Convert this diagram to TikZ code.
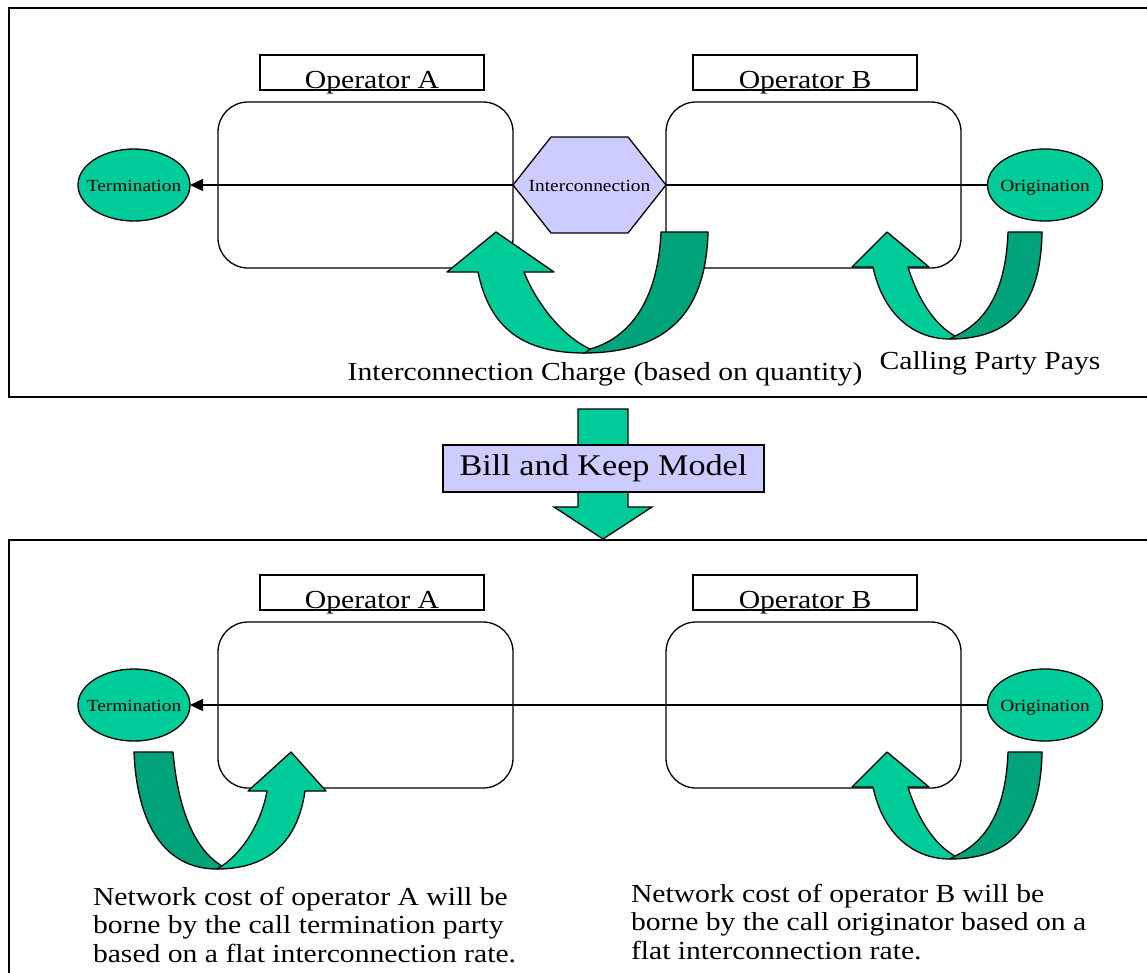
\documentclass[tikz,border=0pt]{standalone}
\usepackage{fontspec}
\setmainfont{Liberation Serif}[FakeStretch=1.14]
\usetikzlibrary{shapes.geometric,arrows.meta}

\definecolor{sea}{HTML}{00CC99}
\definecolor{seadark}{HTML}{00A37A}
\definecolor{lav}{HTML}{CCCCFF}

\newcommand{\narrowlabel}[1]{\makebox[0pt]{#1}}

\tikzset{
  frame/.style={draw, line width=1.6pt},
  labelbox/.style={draw, line width=1.3pt, fill=white, minimum width=224pt,
    minimum height=35pt, inner sep=0pt, outer sep=0pt, anchor=north west},
  opbox/.style={draw, line width=1.3pt, rounded corners=30pt, minimum width=295pt,
    minimum height=166pt, inner sep=0pt, outer sep=0pt, anchor=north west},
  endpoint/.style={ellipse, draw, line width=1.3pt, fill=sea, minimum width=112pt,
    minimum height=72pt, inner sep=0pt, outer sep=0pt, text height=12pt, text depth=0pt,
    font=\fontsize{17}{20}\selectfont},
  flow/.style={line width=1.3pt},
  flowtip/.style={flow, -{Triangle[length=13pt,width=12pt]}},
  hexa/.style={draw, line width=1.3pt, fill=lav, line join=miter},
  light/.style={draw, line width=1.3pt, fill=sea, line join=round},
  dark/.style={draw, line width=1.3pt, fill=seadark, line join=round},
  bigtext/.style={font=\fontsize{26}{28.5}\selectfont, inner sep=0pt, outer sep=0pt},
  smalltext/.style={font=\fontsize{17}{20}\selectfont, inner sep=0pt, text height=12pt, text depth=0pt},
  % U-turn ribbon rising on the left (used on the right-hand side)
  uturnR/.pic={
    \draw[dark] (1008,232) -- (1042,232) .. controls (1041,300) and (1015,339) .. (950,339)
      -- (955,336) .. controls (990,320) and (1006,285) .. (1008,232) -- cycle;
    \draw[light] (852,267) -- (887,232) -- (929,267) -- (908,267)
      .. controls (918,300) and (935,325) .. (955,336) -- (950,339)
      .. controls (910,339) and (882,310) .. (873,267) -- cycle;
  },
}

\begin{document}
\begin{tikzpicture}[x=1pt,y=-1pt]
\useasboundingbox (0,0) rectangle (1147,972);
\clip (0,0) rectangle (1147,972);
\fill[white] (0,0) rectangle (1147,972);

% ---------- upper panel: calling party pays ----------
\draw[frame] (9,8) rectangle (1175,397);

\node[opbox] (netAT) at (218,102) {};
\node[opbox] (netBT) at (666,102) {};
\node[labelbox] (labAT) at (260,55) {};
\node[labelbox] (labBT) at (693,55) {};
\node[bigtext, anchor=base] (txtAT) at (372,88) {Operator A};
\node[bigtext, anchor=base] (txtBT) at (805,88) {Operator B};

\coordinate (icTW) at (513,185);
\coordinate (icTE) at (666,185);
\node[endpoint] (termT) at (134,185) {\narrowlabel{Termination}};
\node[endpoint, minimum width=115pt] (origT) at (1045,185) {\narrowlabel{Origination}};
\draw[flowtip] (icTW) -- (termT);
\draw[flow] (origT) -- (icTE);

\draw[hexa] (icTW) -- (551,137) -- (628,137) -- (icTE) -- (628,233) -- (551,233) -- cycle;
\node[smalltext] (icT) at (589.5,185) {Interconnection};

% charge flowing back across the interconnection
\draw[dark] (661,232) -- (708,232) .. controls (706,310) and (670,353) .. (583,353)
  -- (590,349) .. controls (630,338) and (658,300) .. (661,232) -- cycle;
\draw[light] (447,272) -- (496,232) -- (554,272) -- (524,272)
  .. controls (535,300) and (560,335) .. (590,349) -- (585,353)
  .. controls (525,353) and (490,330) .. (478,272) -- cycle;

\pic at (0,0) {uturnR};

\node[bigtext, anchor=base] (chargeT) at (605,380) {Interconnection Charge (based on quantity)};
\node[bigtext, anchor=base] (cppT) at (990,369) {Calling Party Pays};

% ---------- transition ----------
\draw[light, line join=miter] (578,409) -- (628,409) -- (628,507) -- (652,507)
  -- (603,539) -- (554,507) -- (578,507) -- cycle;
\node[draw, line width=1.3pt, fill=lav, minimum width=321pt, minimum height=47pt,
  inner sep=0pt, font=\fontsize{30}{34}\selectfont] (bk) at (603.5,468.5) {Bill and Keep Model};

% ---------- lower panel: bill and keep ----------
\draw[frame] (9,540) rectangle (1175,1000);

\node[opbox] (netAB) at (218,622) {};
\node[opbox] (netBB) at (666,622) {};
\node[labelbox] (labAB) at (260,575) {};
\node[labelbox] (labBB) at (693,575) {};
\node[bigtext, anchor=base] (txtAB) at (372,608) {Operator A};
\node[bigtext, anchor=base] (txtBB) at (805,608) {Operator B};

\node[endpoint] (termB) at (134,705) {\narrowlabel{Termination}};
\node[endpoint, minimum width=115pt] (origB) at (1045,705) {\narrowlabel{Origination}};
\draw[flowtip] (origB) -- (termB);

% termination side pays operator A
\draw[dark] (134,752) -- (173,752) .. controls (178,810) and (195,850) .. (222,866)
  -- (217,869) .. controls (165,869) and (137,825) .. (134,752) -- cycle;
\draw[light] (248,791) -- (291,752) -- (326,791) -- (305,791)
  .. controls (298,840) and (270,869) .. (217,869) -- (222,866)
  .. controls (245,850) and (262,820) .. (267,791) -- cycle;

\pic at (0,520) {uturnR};

\node[bigtext, align=left, anchor=north west] (noteA) at (93,887)
  {Network cost of operator A will be\\borne by the call termination party\\based on a flat interconnection rate.};
\node[bigtext, align=left, anchor=north west] (noteB) at (631,884)
  {Network cost of operator B will be\\borne by the call originator based on a\\flat interconnection rate.};
\end{tikzpicture}
\end{document}
